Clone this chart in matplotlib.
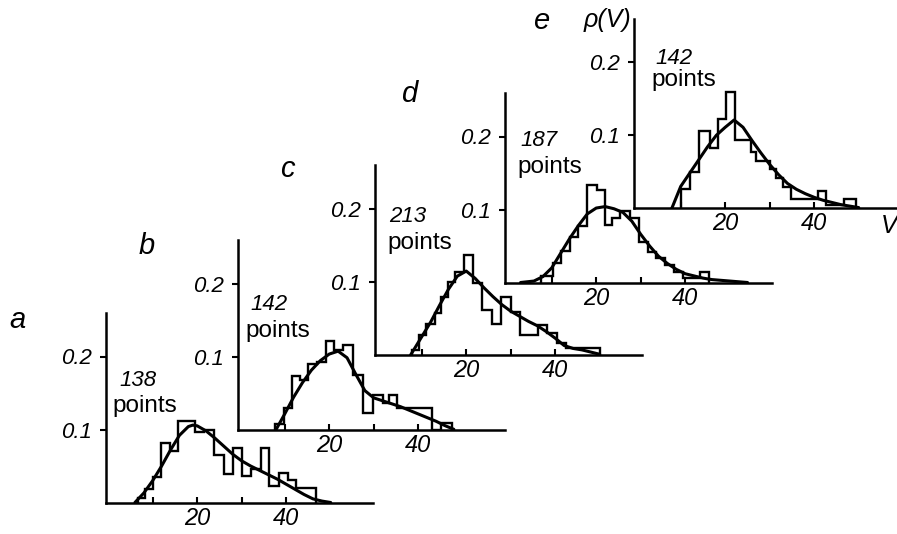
import matplotlib
matplotlib.use('Agg')
import matplotlib.pyplot as plt

# 直方图 (bin edges / density) 与拟合曲线, 5 个样本 a-e
a_edges = [6.6, 8.2, 10.0, 11.9, 13.8, 15.6, 19.5, 21.6, 23.7, 26.0, 28.0, 30.0, 32.1, 34.4, 36.2, 38.3, 40.4, 42.2, 44.5, 46.7]
a_heights = [0.006, 0.018, 0.035, 0.081, 0.070, 0.112, 0.097, 0.100, 0.065, 0.039, 0.074, 0.036, 0.046, 0.074, 0.022, 0.040, 0.031, 0.020, 0.020]
a_cx = [6, 8, 10, 12, 14, 16, 18, 19, 20, 22, 24, 26, 28, 30, 32, 34, 36, 38, 40, 42, 44, 46, 48, 50]
a_cy = [0.0, 0.013, 0.03, 0.05, 0.072, 0.092, 0.104, 0.106, 0.105, 0.098, 0.088, 0.077, 0.066, 0.057, 0.05, 0.044, 0.038, 0.032, 0.025, 0.018, 0.011, 0.005, 0.002, 0.0]

b_edges = [7.9, 9.8, 11.6, 13.5, 15.3, 17.2, 19.2, 21.1, 23.0, 25.3, 27.5, 29.8, 32.0, 33.5, 35.3, 43.1, 45.1, 47.5]
b_heights = [0.008, 0.03, 0.074, 0.068, 0.091, 0.093, 0.122, 0.109, 0.116, 0.075, 0.023, 0.048, 0.037, 0.048, 0.030, 0.0, 0.010]
b_cx = [8, 10, 12, 14, 16, 18, 20, 22, 24, 26, 28, 30, 32, 34, 36, 38, 40, 42, 44, 46, 48]
b_cy = [0.0, 0.022, 0.045, 0.065, 0.082, 0.095, 0.104, 0.108, 0.099, 0.076, 0.054, 0.044, 0.040, 0.036, 0.032, 0.027, 0.022, 0.017, 0.012, 0.006, 0.001]

c_edges = [7.9, 9.4, 11.0, 12.9, 14.4, 15.9, 17.5, 19.4, 21.5, 23.6, 25.9, 27.8, 30.0, 32.0, 36.2, 38.1, 40.4, 42.5, 50.0]
c_heights = [0.007, 0.027, 0.043, 0.057, 0.080, 0.100, 0.114, 0.137, 0.098, 0.062, 0.043, 0.080, 0.059, 0.027, 0.041, 0.030, 0.017, 0.010]
c_cx = [7.5, 10, 12, 14, 16, 18, 20, 22, 24, 26, 28, 30, 32, 34, 36, 38, 40, 42, 44, 46, 48, 50]
c_cy = [0.0, 0.025, 0.045, 0.068, 0.09, 0.108, 0.115, 0.105, 0.092, 0.08, 0.069, 0.06, 0.053, 0.046, 0.04, 0.032, 0.023, 0.013, 0.009, 0.007, 0.004, 0.001]

d_edges = [7.5, 10.2, 12.1, 14.0, 15.9, 18.0, 20.2, 22.0, 23.5, 25.3, 27.5, 29.6, 31.6, 33.5, 35.4, 37.4, 39.6, 41.9, 43.4, 45.3]
d_heights = [0.009, 0.027, 0.043, 0.062, 0.078, 0.134, 0.127, 0.079, 0.088, 0.098, 0.088, 0.055, 0.042, 0.033, 0.024, 0.015, 0.006, 0.006, 0.015]
d_cx = [3, 6, 8, 10, 12, 14, 16, 18, 20, 22, 24, 26, 28, 30, 32, 34, 36, 38, 40, 42, 44, 46, 48, 50, 52, 54]
d_cy = [0.0, 0.002, 0.008, 0.02, 0.04, 0.06, 0.078, 0.094, 0.102, 0.104, 0.101, 0.096, 0.084, 0.066, 0.05, 0.036, 0.026, 0.018, 0.012, 0.009, 0.006, 0.004, 0.003, 0.002, 0.001, 0.0]

e_edges = [10.1, 12.0, 14.2, 16.5, 18.3, 20.2, 22.1, 25.8, 27.0, 30.0, 31.5, 33.0, 34.8, 40.8, 42.7, 46.8, 49.4]
e_heights = [0.027, 0.05, 0.106, 0.083, 0.122, 0.16, 0.093, 0.077, 0.065, 0.054, 0.042, 0.029, 0.013, 0.024, 0.004, 0.013]
e_cx = [8, 10, 12, 14, 16, 18, 20, 22, 24, 26, 28, 30, 32, 34, 36, 38, 40, 42, 44, 46, 48, 50]
e_cy = [0.0, 0.03, 0.048, 0.066, 0.084, 0.1, 0.111, 0.121, 0.111, 0.093, 0.076, 0.06, 0.046, 0.034, 0.026, 0.02, 0.015, 0.011, 0.008, 0.005, 0.003, 0.001]

letters = ['a', 'b', 'c', 'd', 'e']
counts = ['138', '142', '213', '187', '142']
xticks = [10, 20, 30, 40]
xticklabels = ['', '20', '', '40']
yticks = [0.1, 0.2]
yticklabels = ['0.1', '0.2']

W, H = 897, 534
FONT = ['Liberation Sans', 'DejaVu Sans']

# 每个小图的位置 (像素): y 轴所在 x, 基线 y
spine_x = [106, 238, 375, 505, 634]
base_y = [502.5, 430, 355, 282.5, 208.3]
letter_xy = [(17, 320), (147, 246), (287, 169), (409, 94), (541, 21)]
count_xy = [(138, 381), (269, 304), (408, 217), (539, 141), (674, 58)]
points_xy = [(145, 406), (278, 331), (420, 243), (550, 167), (684, 80)]

XMIN, XMAX = -0.5, 59.5
YMAX = 0.26
PX_X = 4.45   # px per unit V
PX_Y = 730    # px per unit rho


def px(x, y):
    return x / W, 1 - y / H


fig = plt.figure(figsize=(W / 100, H / 100), dpi=100)

data = [
    (a_edges, a_heights, a_cx, a_cy),
    (b_edges, b_heights, b_cx, b_cy),
    (c_edges, c_heights, c_cx, c_cy),
    (d_edges, d_heights, d_cx, d_cy),
    (e_edges, e_heights, e_cx, e_cy),
]

for i, (edges, heights, cx, cy) in enumerate(data):
    left, bottom = px(spine_x[i], base_y[i])
    ax = fig.add_axes([left, bottom, (XMAX - XMIN) * PX_X / W, YMAX * PX_Y / H])
    ax.patch.set_visible(False)
    ax.stairs(heights, edges, color='black', linewidth=1.7)
    ax.plot(cx, cy, color='black', linewidth=2.2, solid_joinstyle='round', solid_capstyle='round')
    ax.set_xlim(XMIN, XMAX)
    ax.set_ylim(0, YMAX)
    for s in ['top', 'right']:
        ax.spines[s].set_visible(False)
    for s in ['left', 'bottom']:
        ax.spines[s].set_linewidth(1.8)
    ax.set_xticks(xticks, xticklabels, fontsize=17, family=FONT, style='italic')
    ax.set_yticks(yticks, yticklabels, fontsize=16, family=FONT, style='italic')
    ax.tick_params(axis='x', direction='in', length=4, width=1.5, pad=3)
    ax.tick_params(axis='y', direction='out', length=4, width=1.5, pad=6)

    fig.text(*px(*letter_xy[i]), letters[i], fontsize=21, family=FONT, style='italic',
             ha='center', va='center')
    fig.text(*px(*count_xy[i]), counts[i], fontsize=16, family=FONT, style='italic',
             ha='center', va='center')
    fig.text(*px(*points_xy[i]), 'points', fontsize=17.5, family=FONT,
             ha='center', va='center')

fig.text(*px(631, 20), 'ρ(V)', fontsize=18, family=FONT, style='italic', ha='right', va='center')
fig.text(*px(889, 226), 'V', fontsize=18, family=FONT, style='italic', ha='center', va='center')

fig.savefig('out.png', dpi=100)
